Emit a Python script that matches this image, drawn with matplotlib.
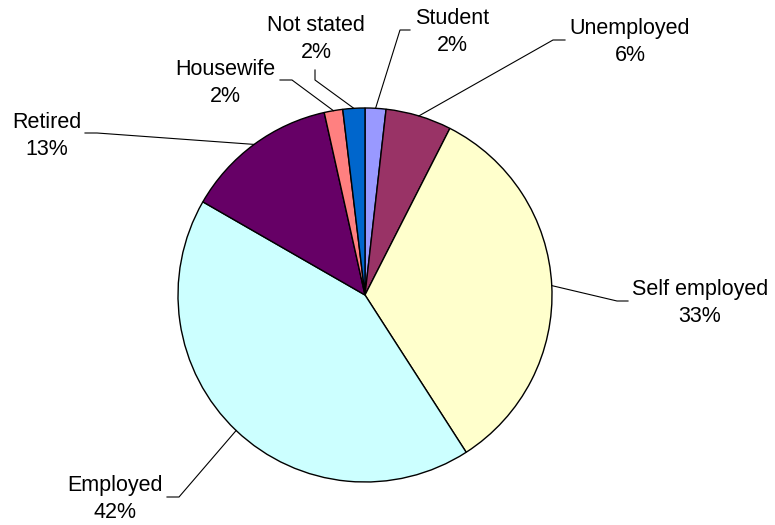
import numpy as np
import matplotlib
matplotlib.use("Agg")
import matplotlib.pyplot as plt

# ---- data ----
categories = ["Student", "Unemployed", "Self employed", "Employed",
              "Retired", "Housewife", "Not stated"]
shares = [1.8, 5.7, 33.4, 42.4, 13.2, 1.6, 1.9]
colors = ["#9999FF", "#993366", "#FFFFCC", "#CCFFFF",
          "#660066", "#FF8080", "#0066CC"]

# ---- layout (pixel coords, y measured from top) ----
W, H = 775, 525
CX, CY, R = 365, 295, 187
# label centre, text-side end of elbow, elbow point
layout = {
    "Student":       ((452, 32),  (410, 30),  (400, 30)),
    "Unemployed":    ((630, 42),  (565, 40),  (553, 40)),
    "Self employed": ((700, 303), (628, 301), (617, 301)),
    "Employed":      ((115, 499), (167, 497), (179, 497)),
    "Retired":       ((47, 136),  (85, 133),  (97, 133)),
    "Housewife":     ((225, 83),  (280, 80),  (292, 80)),
    "Not stated":    ((316, 39),  (315, 70),  (315, 80)),
}

def up(p):
    return (p[0], H - p[1])

plt.rcParams['font.family'] = ['Liberation Sans', 'DejaVu Sans']
fig = plt.figure(figsize=(W / 100, H / 100), dpi=100)
ax = fig.add_axes([0, 0, 1, 1])

wedges, _ = ax.pie(shares, colors=colors, startangle=90, counterclock=False,
                   center=(CX, H - CY), radius=R,
                   wedgeprops=dict(edgecolor="black", linewidth=1.0))
ax.set_xlim(0, W)
ax.set_ylim(0, H)
ax.set_aspect("equal")
ax.axis("off")

for w, cat, val in zip(wedges, categories, shares):
    mid = np.deg2rad((w.theta1 + w.theta2) / 2)
    px = CX + R * np.cos(mid)
    py = (H - CY) + R * np.sin(mid)
    lab, tside, elbow = layout[cat]
    t = up(tside)
    e = up(elbow)
    ax.plot([px, e[0], t[0]], [py, e[1], t[1]], color="black", lw=0.8,
            solid_joinstyle="miter")
    c = up(lab)
    ax.text(c[0], c[1], f"{cat}\n{round(val)}%", ha="center", va="center",
            fontsize=15.5, color="black", linespacing=1.36)

fig.savefig("out.png", dpi=100)
